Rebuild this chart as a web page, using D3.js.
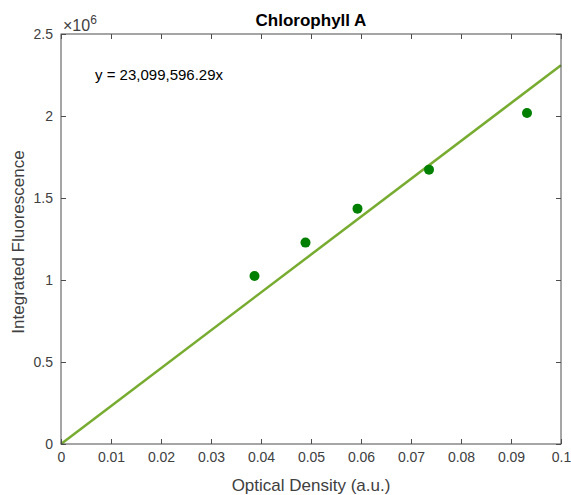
<!DOCTYPE html>
<html>
<head>
<meta charset="utf-8">
<script src="https://d3js.org/d3.v7.min.js"></script>
<style>
  body { margin: 0; background: #fff; }
  text { font-family: "Liberation Sans", Arial, sans-serif; }
</style>
</head>
<body>
<div id="viz"></div>
<script>
// measured samples
var density = [0.0387, 0.0489, 0.0593, 0.0736, 0.0932];
var fluorescence = [1.024e6, 1.228e6, 1.435e6, 1.673e6, 2.018e6];
var slope = 23099596.29;
var xTicks = [0, 0.01, 0.02, 0.03, 0.04, 0.05, 0.06, 0.07, 0.08, 0.09, 0.1];
var yTicks = [0, 0.5e6, 1e6, 1.5e6, 2e6, 2.5e6];

function draw() {
  var width = 571, height = 495;
  var padL = 61, padR = 561, padT = 34, padB = 444;

  var svg = d3.select("#viz").append("svg")
    .attr("width", width)
    .attr("height", height);

  var x = d3.scaleLinear().domain([0, 0.1]).range([padL, padR]);
  var y = d3.scaleLinear().domain([0, 2.5e6]).range([padB, padT]);

  var axisColor = "#4d4d4d";
  var labelColor = "#404040";

  // fit line
  svg.append("line")
    .attr("x1", x(0)).attr("y1", y(0))
    .attr("x2", x(0.1)).attr("y2", y(slope * 0.1))
    .style("stroke", "#77ac30")
    .style("stroke-width", 2.5);

  // points
  svg.selectAll("circle.pt")
    .data(density)
    .enter().append("circle")
    .attr("class", "pt")
    .attr("cx", function (d) { return x(d); })
    .attr("cy", function (d, i) { return y(fluorescence[i]); })
    .attr("r", 5)
    .style("fill", "#008000");

  // box
  svg.append("rect")
    .attr("x", padL).attr("y", padT)
    .attr("width", padR - padL).attr("height", padB - padT)
    .style("fill", "none")
    .style("stroke", axisColor)
    .style("stroke-width", 1);

  // axes, ticks point inward
  function styleAxis(g) {
    g.select(".domain").remove();
    g.selectAll(".tick line").style("stroke", axisColor);
    g.selectAll(".tick text")
      .style("font-size", "14px")
      .style("fill", labelColor);
  }

  var fmtX = function (d) { return d === 0 ? "0" : String(+d.toFixed(2)); };

  svg.append("g")
    .attr("transform", "translate(0," + padB + ")")
    .call(d3.axisBottom(x).tickValues(xTicks).tickSizeInner(-5).tickSizeOuter(0).tickPadding(8).tickFormat(fmtX))
    .call(styleAxis);

  svg.append("g")
    .attr("transform", "translate(0," + padT + ")")
    .call(d3.axisTop(x).tickValues(xTicks).tickSizeInner(-5).tickSizeOuter(0).tickFormat(""))
    .call(styleAxis);

  svg.append("g")
    .attr("transform", "translate(" + padL + ",0)")
    .call(d3.axisLeft(y).tickValues(yTicks).tickSizeInner(-5).tickSizeOuter(0).tickPadding(8)
      .tickFormat(function (d) { return String(d / 1e6); }))
    .call(styleAxis);

  svg.append("g")
    .attr("transform", "translate(" + padR + ",0)")
    .call(d3.axisRight(y).tickValues(yTicks).tickSizeInner(-5).tickSizeOuter(0).tickFormat(""))
    .call(styleAxis);

  // exponent
  var ex = svg.append("text")
    .attr("x", padL + 2).attr("y", padT - 3)
    .style("font-size", "16px")
    .style("fill", labelColor);
  ex.append("tspan").text("\u00d710");
  ex.append("tspan").attr("dy", -7).style("font-size", "12px").text("6");

  // title
  svg.append("text")
    .attr("x", (padL + padR) / 2).attr("y", 26)
    .attr("text-anchor", "middle")
    .style("font-size", "17px")
    .style("font-weight", "bold")
    .style("fill", "#000")
    .text("Chlorophyll A");

  // equation
  svg.append("text")
    .attr("x", 95).attr("y", 80)
    .style("font-size", "15px")
    .style("fill", "#000")
    .text("y = 23,099,596.29x");

  // axis labels
  svg.append("text")
    .attr("x", (padL + padR) / 2).attr("y", 491)
    .attr("text-anchor", "middle")
    .style("font-size", "17px")
    .style("fill", labelColor)
    .text("Optical Density (a.u.)");

  svg.append("text")
    .attr("transform", "translate(24,242) rotate(-90)")
    .attr("text-anchor", "middle")
    .style("font-size", "17px")
    .style("fill", labelColor)
    .text("Integrated Fluorescence");
}

draw();
</script>
</body>
</html>
